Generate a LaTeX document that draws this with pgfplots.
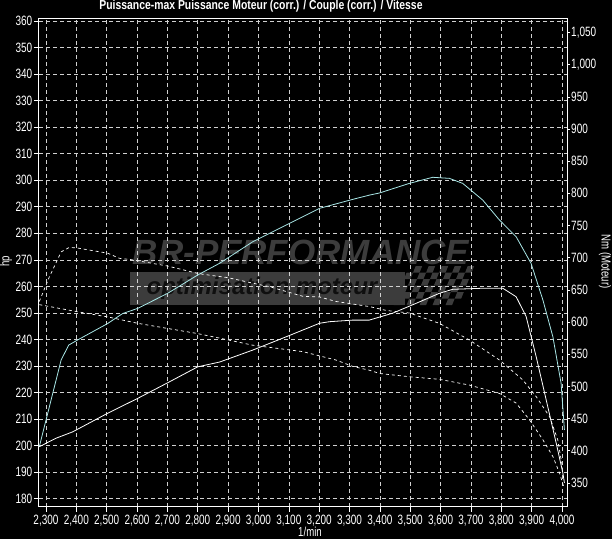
\documentclass[border=0pt]{standalone}
\usepackage{pgfplots}
\pgfplotsset{compat=1.18}
\usepackage{fontspec}
\setmainfont{Liberation Sans}
\newfontfamily\narrow[FakeStretch=0.74]{Liberation Sans}
\newfontfamily\titlefont[FakeStretch=0.8]{Liberation Sans}
\definecolor{cyanline}{HTML}{A8E6E6}
\definecolor{gridc}{HTML}{D0D0D0}
\definecolor{wm}{HTML}{3C3C3C}

\begin{document}
\begin{tikzpicture}[x=1pt,y=1pt]
\fill[black] (0,0) rectangle (612,539);
% watermark
\fill[wm] (130,234) rectangle (405,267.3);
\begin{scope}[xslant=0.4]
\foreach \i in {0,...,9}{\foreach \j in {0,...,5}{
  \pgfmathtruncatemacro{\p}{mod(\i+\j,2)}
  \ifnum\p=0 \fill[wm] ({300+\i*6.5},{234+\j*6.5}) rectangle ++(6.5,6.5);\fi
}}
\end{scope}
\node[text=wm, font=\fontsize{35}{37}\selectfont\bfseries\itshape] at (301,287) {BR-PERFORMANCE};
\node[text=black!75!wm, font=\fontsize{24}{26}\selectfont\bfseries\itshape] at (262,250.6) {optimisation moteur};

\begin{axis}[
  at={(39pt,32.3pt)}, anchor=south west, scale only axis,
  width=528pt, height=488.4pt,
  xmin=2277, xmax=4016.5, ymin=177, ymax=361,
  xtick={2300,2400,...,4000}, ytick={180,190,...,360},
  scaled ticks=false,
  xtick pos=left, ytick pos=left,
  tick align=outside, major tick length=5pt,
  axis line style={white, line width=1pt},
  tick style={white, line width=0.6pt},
  grid=major, grid style={gridc, dash pattern=on 4pt off 3pt, line width=0.6pt},
  /pgf/number format/assume math mode=true,
  /pgf/number format/1000 sep={,},
  ticklabel style={font=\narrow\fontsize{13.5}{14}\selectfont, text=white},
  yticklabel style={inner sep=1.5pt},
  clip=true,
]
\addplot[cyanline, line width=0.8pt] coordinates {
(2278,199.6) (2350,232.3) (2375,237.9) (2404,239.8) (2503,246) (2553,249.8) (2602,251.7)
(2701,257.4) (2800,264.3) (2872,268.7) (2981,276.8) (3091,283.1) (3201,289.4) (3311,292.8)
(3366,294.4) (3399,295.2) (3497,298.8) (3574,301.1) (3629,300.7) (3673,298.8) (3739,292.5)
(3794,285) (3849,278.7) (3898,268.7) (3937,254.9) (3970,241) (3997,223.5) (4008,205.9)
};
\addplot[white, line width=0.8pt] coordinates {
(2278,199.6) (2333,202.8) (2388,205.2) (2503,212.2) (2602,217.8) (2701,223.7) (2800,229.7)
(2872,231.5) (2981,236.0) (3091,241) (3201,246.1) (3234,246.7) (3311,247.3) (3365,247.3)
(3442,249.9) (3519,253.6) (3596,257.4) (3640,258.9) (3739,259.3) (3805,259.3) (3849,256.1)
(3882,248.6) (3915,233.5) (3948,217.2) (3981,200.9) (4003,189.6) (4008,186)
};
\end{axis}

\begin{axis}[
  at={(39pt,32.3pt)}, anchor=south west, scale only axis,
  width=528pt, height=488.4pt,
  xmin=2277, xmax=4016.5, ymin=313, ymax=1072,
  axis x line=none, axis y line*=right,
  ytick={350,400,...,1050},
  scaled ticks=false,
  tick align=outside, major tick length=3pt,
  axis line style={white, line width=1pt},
  tick style={white, line width=0.6pt},
  /pgf/number format/assume math mode=true,
  /pgf/number format/1000 sep={,},
  yticklabel style={font=\narrow\fontsize{13.5}{14}\selectfont, text=white, anchor=west, inner sep=1pt},
  clip=true,
]
\addplot[white, line width=0.7pt, dash pattern=on 3pt off 3pt] coordinates {
(2278,632) (2311,670) (2350,709) (2377,716) (2404,715) (2503,707) (2542,699) (2580,697)
(2701,687) (2805,675) (2899,669) (3014,657) (3036,655) (3146,640) (3201,639) (3255,632)
(3366,624) (3421,618) (3497,614) (3596,598) (3695,572) (3794,541) (3871,510) (3915,484)
(3959,453) (3986,417) (4002,373)
};
\addplot[white, line width=0.7pt, dash pattern=on 3pt off 3pt] coordinates {
(2278,627) (2404,616) (2503,608) (2602,598) (2701,590) (2800,582) (2872,575) (2981,564)
(3146,554) (3255,541) (3311,531) (3366,525) (3399,520) (3497,515) (3596,511) (3695,502)
(3794,489) (3849,474) (3893,448) (3937,417) (3970,391) (3992,365) (4005,345)
};
\end{axis}

\node[font=\titlefont\fontsize{13}{14}\selectfont\bfseries, text=white] at (261,532.5) {Puissance-max Puissance Moteur (corr.) / Couple (corr.) / Vitesse};
\node[font=\narrow\fontsize{13}{14}\selectfont, text=white, rotate=90] at (6,277.5) {hp};
\node[font=\narrow\fontsize{13}{14}\selectfont, text=white, rotate=-90] at (605,277.5) {Nm (Moteur)};
\node[font=\narrow\fontsize{13}{14}\selectfont, text=white] at (310,7) {1/min};
\pgfresetboundingbox
\path (0,0) rectangle (612,539);
\end{tikzpicture}
\end{document}
